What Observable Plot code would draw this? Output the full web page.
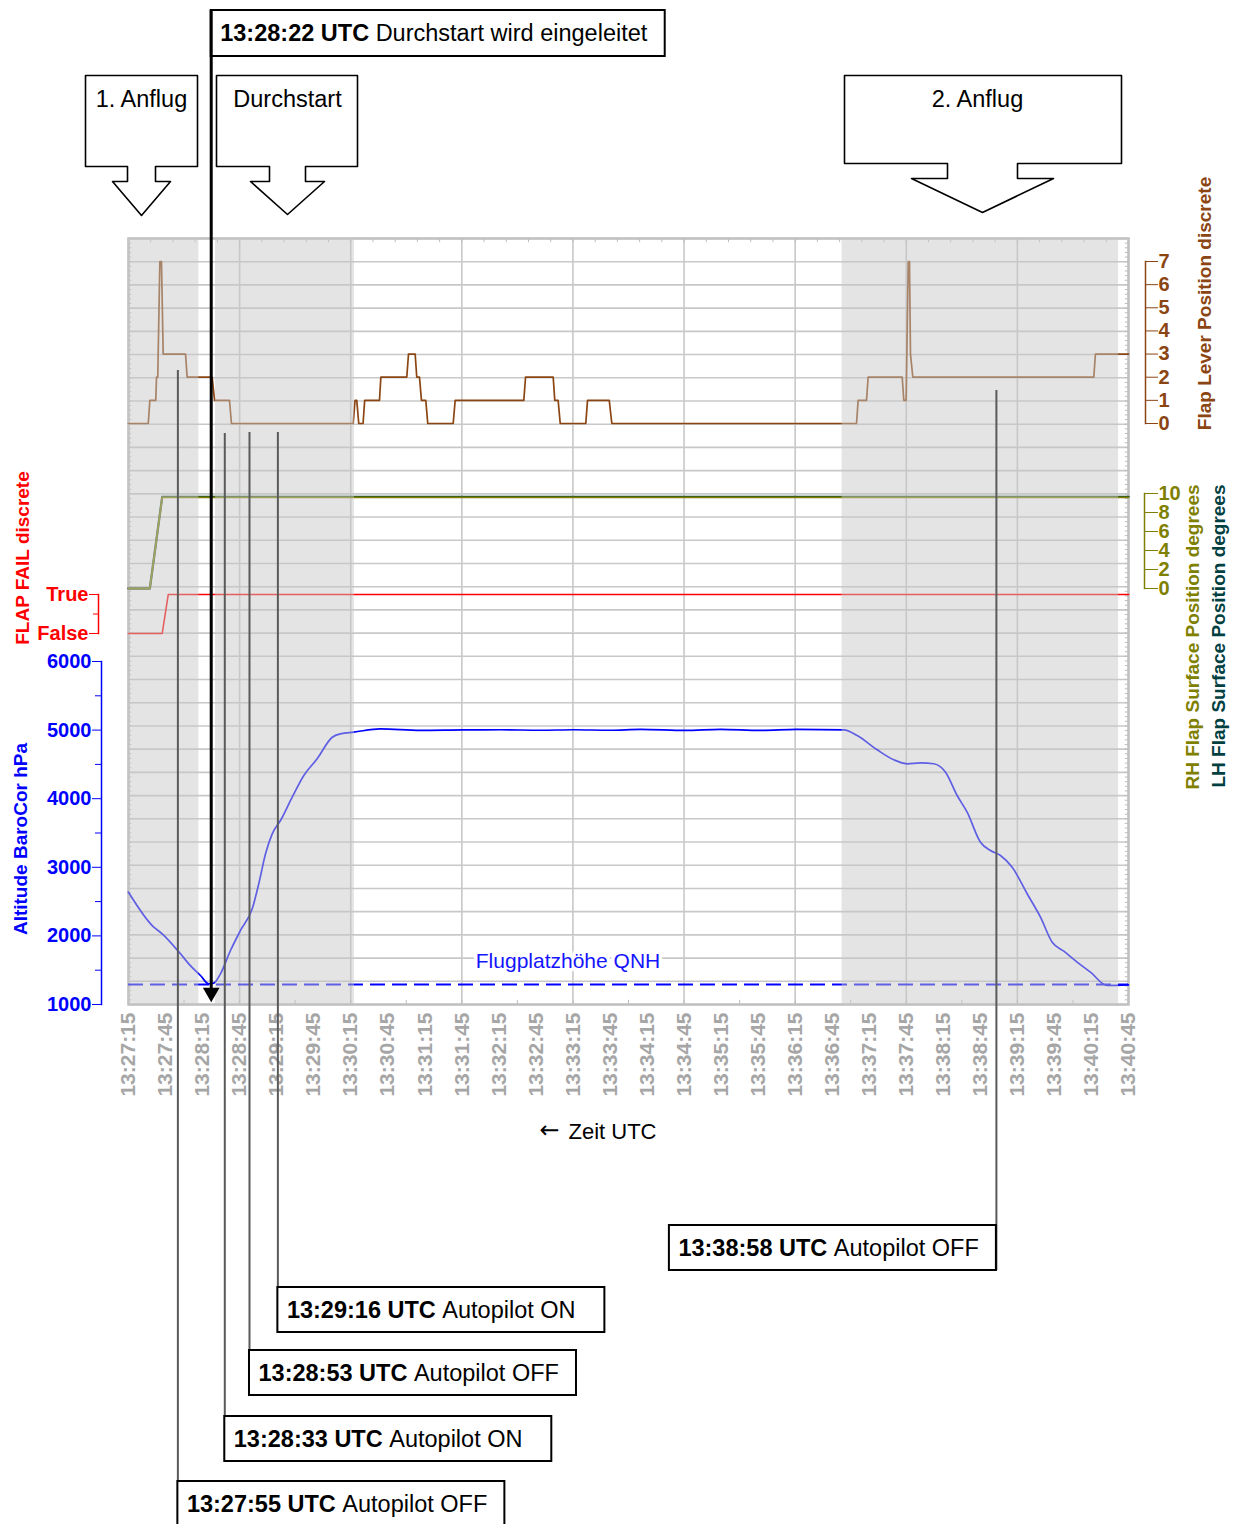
<!DOCTYPE html>
<html><head><meta charset="utf-8">
<script src="https://cdn.jsdelivr.net/npm/d3@7"></script>
<script src="https://cdn.jsdelivr.net/npm/@observablehq/plot@0.6"></script>
<style>
body{margin:0;background:#fff;}
#chart{position:relative;width:1238px;height:1524px;overflow:hidden;background:#fff;}
#chart svg{position:absolute;left:0;top:0;}
</style></head><body><div id="chart"></div>
<script>
// ================= DATA =================
const startTime = "13:27:15";
const endTime = "13:40:45";
const tickLabels = ["13:27:15","13:27:45","13:28:15","13:28:45","13:29:15","13:29:45","13:30:15","13:30:45",
  "13:31:15","13:31:45","13:32:15","13:32:45","13:33:15","13:33:45","13:34:15","13:34:45","13:35:15","13:35:45",
  "13:36:15","13:36:45","13:37:15","13:37:45","13:38:15","13:38:45","13:39:15","13:39:45","13:40:15","13:40:45"];

// Altitude BaroCor (ft), time in seconds after 13:27:15
const altSec = [0,20.5,27.3,42.1,48.8,58.3,65.0,69.1,74.5,82.6,90.7,100.2,105.5,111.0,116.4,123.1,132.6,142.0,152.8,165.0,171.7,182.5,
  204.1,236.5,270.5,301.3,333.7,360.4,390.4,414.7,451.2,479.5,511.9,541.1,579.4,590.2,606.4,619.9,630.7,641.5,652.3,661.8,671.2,
  679.3,690.1,698.2,706.3,715.8,727.9,738.7,748.2,757.6,768.4,779.2,792.7,810];
const altFt = [2637,2127,2031,1739,1593,1423,1302,1311,1447,1787,2079,2395,2759,3197,3488,3682,4022,4338,4581,4896,4946,4970,
  5019,4995,5003,5005,4998,5005,4998,5010,4995,5010,4995,5010,5004,4921,4713,4567,4509,4523,4509,4387,4047,
  3803,3366,3245,3172,3001,2614,2273,1908,1777,1617,1471,1277,1285];
const qnhFt = 1290;
const qnhLabel = "Flugplatzhöhe QNH";

// Flap Lever Position discrete
const leverSec = [0,16.0,17.3,22.1,22.7,23.7,25.4,26.7,28.1,46.2,47.5,67.8,69.7,81.8,83.4,182.0,183.5,184.9,186.5,190.0,191.3,
  203.3,204.4,225.4,226.8,232.2,233.5,235.7,237.3,240.8,242.4,263.0,264.6,320.2,321.6,344.0,345.3,348.0,349.7,370.4,371.8,
  389.4,391.5,589.7,591.0,597.8,599.1,626.7,628.0,629.9,631.6,632.6,633.4,635.3,781.9,783.2,810];
const leverPos = [0,0,1,1,2,2,7,7,3,3,2,2,1,1,0,0,1,1,0,0,1,
  1,2,2,3,3,2,2,1,1,0,0,1,1,2,2,1,1,0,0,1,
  1,0,0,1,1,2,2,1,1,7,7,3,2,2,3,3];

// RH / LH Flap Surface Position degrees
const rhSec = [0,17.3,27.3,810];
const rhDeg = [0,0,9.6,9.6];
const lhSec = [0,17.3,27.3,810];
const lhDeg = [0,0,9.65,9.65];

// FLAP FAIL discrete (0 = False, 1 = True)
const failSec = [0,27.3,32.2,810];
const failVal = [0,0,1,1];
const failLabels = ["False","True"];

// Axis ticks
const altTicks = [1000,2000,3000,4000,5000,6000];
const altMinorTicks = [1500,2500,3500,4500,5500];
const leverTicks = [0,1,2,3,4,5,6,7];
const degTicks = [0,2,4,6,8,10];

// Titles
const altTitle = "Altitude BaroCor hPa";
const failTitle = "FLAP FAIL discrete";
const leverTitle = "Flap Lever Position discrete";
const rhTitle = "RH Flap Surface Position degrees";
const lhTitle = "LH Flap Surface Position degrees";
const xTitleArrow = "←";
const xTitleText = "Zeit UTC";

// Phases (grey shading)
const phaseNames = ["1. Anflug","Durchstart","2. Anflug"];
const phaseStart = ["13:27:15","13:28:25.5","13:36:53"];
const phaseEnd = ["13:28:12","13:30:18","13:40:37"];

// Events
const goAroundTime = "13:28:22";
const goAroundText = "Durchstart wird eingeleitet";
const eventTimes = ["13:27:55","13:28:33","13:28:53","13:29:16","13:38:58"];
const eventTexts = ["Autopilot OFF","Autopilot ON","Autopilot OFF","Autopilot ON","Autopilot OFF"];

// ================= LAYOUT (annotation placement only) =================
const layout = {
  eventLineTop: [370,433,432,432,390],
  eventBoxTop: [1481,1416,1350,1287,1225],
  eventAlign: ["left","left","left","left","right"],
  eventBoxW: 327, eventBoxH: 45,
  goBox: {w: 454, y1: 10, y2: 56, lineEnd: 990},
  callouts: [
    {x0:85, x1:197, y0:75, y1:166, cx:141, sw:14, hw:29, y2:181, y3:215, tx:141},
    {x0:216, x1:357, y0:75, y1:166, cx:287, sw:18, hw:37, y2:181, y3:214, tx:287},
    {x0:844, x1:1121, y0:75, y1:163, cx:982, sw:35, hw:71, y2:178, y3:212, tx:977}
  ]
};

// ================= HELPERS =================
const W = 1238, H = 1524;
const FONT = '"Liberation Sans", Arial, Helvetica, sans-serif';
const toSec = s => { const [h, m, x] = s.split(":").map(Number); return h * 3600 + m * 60 + x; };
const T0 = toSec(startTime);
const rel = s => toSec(s) - T0;
const fmt = d => { const v = Math.round(T0 + d); return `${Math.floor(v/3600)}:${String(Math.floor(v%3600/60)).padStart(2,"0")}:${String(v%60).padStart(2,"0")}`; };
const intFmt = d => String(d);
const XDOM = [0, rel(endTime)];
const XR = [128, 1128];
const PPS = (XR[1] - XR[0]) / (XDOM[1] - XDOM[0]);
const chart = document.getElementById("chart");
const canvas = document.createElement("canvas");
const ctx = canvas.getContext("2d");
const measure = (txt, weight, size) => { ctx.font = `${weight} ${size}px "Liberation Sans"`; return ctx.measureText(txt).width; };
function layer(opts) {
  const el = Plot.plot({width: W, height: H, style: {background: "transparent", fontFamily: FONT, overflow: "visible"}, ...opts});
  chart.appendChild(el);
  return el;
}
const zip = (a, b, k1, k2) => a.map((v, i) => ({[k1]: v, [k2]: b[i]}));

const BLUE = "#0000ff", BROWN = "#8b4513", OLIVE = "#808000", TEAL = "#004040", RED = "#ff0000", GRID = "#c8c8c8";

// ================= LAYER 1: grid, frame, x axis =================
layer({
  marginLeft: 128, marginRight: W - 1128, marginTop: 238, marginBottom: H - 1004,
  x: {domain: XDOM, range: XR},
  y: {domain: [0, 33], axis: null},
  marks: [
    Plot.ruleY(d3.range(0, 34), {x1: XDOM[0], x2: XDOM[1], stroke: GRID, strokeWidth: 1.6}),
    Plot.ruleX(d3.range(0, 811, 90), {y1: 0, y2: 33, stroke: GRID, strokeWidth: 1.6}),
    Plot.ruleY(d3.range(0, 33.01, 0.2), {x1: 0, x2: 2.6, stroke: "#bdbdbd", strokeWidth: 1}),
    Plot.ruleY(d3.range(0, 33.01, 0.2), {x1: 807.4, x2: 810, stroke: "#bdbdbd", strokeWidth: 1}),
    Plot.ruleX(d3.range(0, 811, 18), {y1: 33, y2: 32.82, stroke: "#bdbdbd", strokeWidth: 1}),
    Plot.ruleX(d3.range(0, 811, 45), {y1: 0, y2: 0.18, stroke: "#bdbdbd", strokeWidth: 1}),
    Plot.frame({stroke: "#c0c0c0", strokeWidth: 2.5}),
    Plot.axisX({anchor: "bottom", ticks: tickLabels.map(rel), tickFormat: fmt, tickRotate: -90, tickSize: 0, tickPadding: 8,
      color: "#a6a6a6", fontWeight: "bold", fontSize: 21, label: null}),
    Plot.text([xTitleArrow], {text: d => d, frameAnchor: "bottom", dy: 133, dx: -79, textAnchor: "middle", fontSize: 24, fontFamily: "DejaVu Sans", fill: "black"}),
    Plot.text([xTitleText], {text: d => d, frameAnchor: "bottom", dy: 134, dx: -60, textAnchor: "start", fontSize: 22, fill: "black"})
  ]
});

// ================= LAYER 2: altitude =================
layer({
  marginLeft: 101, marginRight: W - 1128, marginTop: 661, marginBottom: H - 1004,
  x: {domain: XDOM, range: XR, axis: null},
  y: {domain: [1000, 6000]},
  marks: [
    Plot.ruleY([qnhFt], {x1: XDOM[0], x2: XDOM[1], stroke: BLUE, strokeWidth: 2, strokeDasharray: "15,7"}),
    Plot.line(zip(altSec, altFt, "t", "a"), {x: "t", y: "a", stroke: BLUE, strokeWidth: 1.7, curve: "monotone-x"}),
    Plot.text([qnhLabel], {text: d => d, x: 356, y: 1627, fill: "#1414ff", fontSize: 21, stroke: "white", strokeWidth: 7, paintOrder: "stroke"}),
    Plot.frame({anchor: "left", stroke: BLUE, strokeWidth: 1.5}),
    Plot.axisY({anchor: "left", ticks: altTicks, tickFormat: intFmt, tickSize: 9, tickPadding: 1, color: BLUE, fontWeight: "bold", fontSize: 20, label: null}),
    Plot.axisY({anchor: "left", ticks: altMinorTicks, tickSize: 6, tickFormat: () => "", color: BLUE, label: null}),
    Plot.text([altTitle], {text: d => d, frameAnchor: "left", dx: -81, dy: 6, rotate: -90, textAnchor: "middle", fill: BLUE, fontWeight: "bold", fontSize: 19})
  ]
});

// ================= LAYER 3: FLAP FAIL =================
layer({
  marginLeft: 98, marginRight: W - 1128, marginTop: 594, marginBottom: H - 633,
  x: {domain: XDOM, range: XR, axis: null},
  y: {domain: [0, 1]},
  marks: [
    Plot.line(zip(failSec, failVal, "t", "v"), {x: "t", y: "v", stroke: RED, strokeWidth: 1.6}),
    Plot.frame({anchor: "left", stroke: RED, strokeWidth: 1.5}),
    Plot.axisY({anchor: "left", ticks: [0, 1], tickFormat: d => failLabels[d], tickSize: 9, tickPadding: 1, color: RED, fontWeight: "bold", fontSize: 20, label: null}),
    Plot.axisY({anchor: "left", ticks: [0.5], tickFormat: () => "", tickSize: 5, color: RED, label: null}),
    Plot.text([failTitle], {text: d => d, frameAnchor: "left", dx: -76, dy: -56, rotate: -90, textAnchor: "middle", fill: RED, fontWeight: "bold", fontSize: 19})
  ]
});

// ================= LAYER 4: RH / LH flap surface =================
layer({
  marginLeft: 128, marginRight: W - 1144, marginTop: 493, marginBottom: H - 588,
  x: {domain: XDOM, range: XR, axis: null},
  y: {domain: [0, 10]},
  marks: [
    Plot.line(zip(lhSec, lhDeg, "t", "v"), {x: "t", y: "v", stroke: TEAL, strokeWidth: 2.3}),
    Plot.line(zip(rhSec, rhDeg, "t", "v"), {x: "t", y: "v", stroke: OLIVE, strokeWidth: 1.8}),
    Plot.frame({anchor: "right", stroke: OLIVE, strokeWidth: 1.5}),
    Plot.axisY({anchor: "right", ticks: degTicks, tickFormat: intFmt, tickSize: 13, tickPadding: 1, color: OLIVE, fontWeight: "bold", fontSize: 20, label: null}),
    Plot.text([rhTitle], {text: d => d, frameAnchor: "right", dx: 48, dy: 96, rotate: -90, textAnchor: "middle", fill: OLIVE, fontWeight: "bold", fontSize: 19}),
    Plot.text([lhTitle], {text: d => d, frameAnchor: "right", dx: 74, dy: 95, rotate: -90, textAnchor: "middle", fill: TEAL, fontWeight: "bold", fontSize: 19})
  ]
});

// ================= LAYER 5: flap lever =================
layer({
  marginLeft: 128, marginRight: W - 1145, marginTop: 261, marginBottom: H - 423,
  x: {domain: XDOM, range: XR, axis: null},
  y: {domain: [0, 7]},
  marks: [
    Plot.line(zip(leverSec, leverPos, "t", "v"), {x: "t", y: "v", stroke: BROWN, strokeWidth: 1.7}),
    Plot.frame({anchor: "right", stroke: BROWN, strokeWidth: 1.5}),
    Plot.axisY({anchor: "right", ticks: leverTicks, tickFormat: intFmt, tickSize: 12, tickPadding: 1, color: BROWN, fontWeight: "bold", fontSize: 20, label: null}),
    Plot.text([leverTitle], {text: d => d, frameAnchor: "right", dx: 59, dy: -39, rotate: -90, textAnchor: "middle", fill: BROWN, fontWeight: "bold", fontSize: 19})
  ]
});

// ================= LAYER 6: phase shading =================
const phases = phaseNames.map((n, i) => ({name: n, start: rel(phaseStart[i]), end: rel(phaseEnd[i])}));
layer({
  marginLeft: 128, marginRight: W - 1128, marginTop: 238, marginBottom: H - 1004,
  x: {domain: XDOM, range: XR, axis: null},
  y: {domain: [0, 1], axis: null},
  marks: [
    Plot.rect(phases, {x1: "start", x2: "end", y1: 0, y2: 1, fill: "rgb(199,199,199)", fillOpacity: 0.48})
  ]
});

// ================= LAYER 7: event annotations (x = time, y = page) =================
const FS = 23.5;
const ev = eventTimes.map((tm, i) => {
  const t = rel(tm), right = layout.eventAlign[i] === "right";
  const w = layout.eventBoxW / PPS;
  const y1 = layout.eventBoxTop[i];
  return {t, x1: right ? t - w : t, x2: right ? t : t + w, top: layout.eventLineTop[i], y1, y2: y1 + layout.eventBoxH,
    ym: y1 + layout.eventBoxH / 2, bold: tm + " UTC", text: eventTexts[i]};
});
const ga = {t: rel(goAroundTime), bold: goAroundTime + " UTC", text: goAroundText};
ga.x1 = ga.t; ga.x2 = ga.t + layout.goBox.w / PPS; ga.y1 = layout.goBox.y1; ga.y2 = layout.goBox.y2; ga.ym = (ga.y1 + ga.y2) / 2;
const boldW = s => measure(s, "bold", FS) + measure(" ", "normal", FS);

layer({
  marginLeft: 0, marginRight: 0, marginTop: 0, marginBottom: 0,
  x: {domain: XDOM, range: XR, axis: null},
  y: {domain: [0, H], range: [0, H], axis: null},
  marks: [
    Plot.ruleX(ev, {x: "t", y1: "top", y2: "y2", stroke: "#5a5a5a", strokeWidth: 2}),
    Plot.rect(ev, {x1: "x1", x2: "x2", y1: "y1", y2: "y2", fill: "white", stroke: "black", strokeWidth: 2}),
    Plot.text(ev, {x: "x1", y: "ym", text: "bold", dx: 9, textAnchor: "start", fontWeight: "bold", fontSize: FS, fill: "black"}),
    ...ev.map(e => Plot.text([e], {x: "x1", y: "ym", text: "text", dx: 9 + boldW(e.bold), textAnchor: "start", fontSize: FS, fill: "black"})),
    Plot.rect([ga], {x1: "x1", x2: "x2", y1: "y1", y2: "y2", fill: "white", stroke: "black", strokeWidth: 2}),
    Plot.ruleX([ga], {x: "t", y1: "y1", y2: () => layout.goBox.lineEnd, stroke: "black", strokeWidth: 3}),
    Plot.dot([ga], {x: "t", y: () => layout.goBox.lineEnd + 2, symbol: "triangle", rotate: 180, r: 6.2, fill: "black", stroke: "none"}),
    Plot.text([ga], {x: "x1", y: "ym", text: "bold", dx: 9, textAnchor: "start", fontWeight: "bold", fontSize: FS, fill: "black"}),
    Plot.text([ga], {x: "x1", y: "ym", text: "text", dx: 9 + boldW(ga.bold), textAnchor: "start", fontSize: FS, fill: "black"})
  ]
});

// ================= LAYER 8: phase callout arrows (page layout) =================
const calloutPts = [];
layout.callouts.forEach((c, i) => {
  const p = [[c.x0,c.y0],[c.x1,c.y0],[c.x1,c.y1],[c.cx+c.sw,c.y1],[c.cx+c.sw,c.y2],[c.cx+c.hw,c.y2],[c.cx,c.y3],
    [c.cx-c.hw,c.y2],[c.cx-c.sw,c.y2],[c.cx-c.sw,c.y1],[c.x0,c.y1],[c.x0,c.y0]];
  p.forEach(([x, y]) => calloutPts.push({k: i, x, y}));
});
const calloutText = layout.callouts.map((c, i) => ({x: c.tx, y: c.y0 + 24, name: phaseNames[i]}));
layer({
  marginLeft: 0, marginRight: 0, marginTop: 0, marginBottom: 0,
  x: {domain: [0, W], range: [0, W], axis: null},
  y: {domain: [0, H], range: [0, H], axis: null},
  marks: [
    Plot.line(calloutPts, {x: "x", y: "y", z: "k", stroke: "black", strokeWidth: 1.6}),
    Plot.text(calloutText, {x: "x", y: "y", text: "name", fontSize: FS, fill: "black"})
  ]
});
</script></body></html>
